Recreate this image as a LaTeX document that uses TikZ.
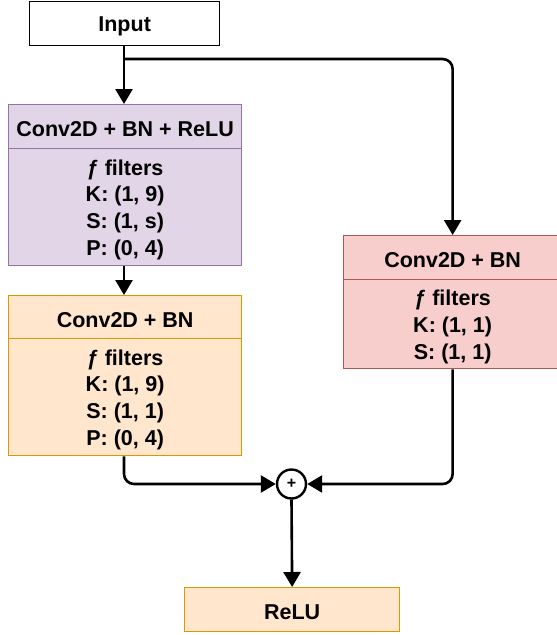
\documentclass[tikz,border=0pt]{standalone}
\usepackage{fontspec}
\setmainfont{Liberation Sans}
\usetikzlibrary{arrows.meta}
\definecolor{pfill}{HTML}{E1D5E7}\definecolor{pdraw}{HTML}{9673A6}
\definecolor{ofill}{HTML}{FFE6CC}\definecolor{odraw}{HTML}{D79B00}
\definecolor{rfill}{HTML}{F8CECC}\definecolor{rdraw}{HTML}{B85450}
\begin{document}
\begin{tikzpicture}[x=1pt,y=-1pt,
  box/.style={draw, line width=1.3pt, inner sep=0pt, anchor=north west},
  purplebox/.style={box, fill=pfill, draw=pdraw},
  orangebox/.style={box, fill=ofill, draw=odraw},
  redbox/.style={box, fill=rfill, draw=rdraw},
  txt/.style={inner sep=0pt, align=center, yshift=-2.5pt,
    font=\fontsize{21.5}{26.8}\selectfont\bfseries},
  conn/.style={line width=2.6pt, rounded corners=10pt, -{Triangle[length=15pt,width=17pt]}}]
\useasboundingbox (0,0) rectangle (557,635);
% boxes
\node[box, fill=white, draw=black, minimum width=190pt, minimum height=44pt] (in) at (29,1) {};
\node[purplebox, minimum width=233pt, minimum height=44pt] (phead) at (8,104) {};
\node[purplebox, minimum width=233pt, minimum height=117pt] (pbody) at (8,148) {};
\node[orangebox, minimum width=233pt, minimum height=43pt] (ohead) at (8,295) {};
\node[orangebox, minimum width=233pt, minimum height=117pt] (obody) at (8,338) {};
\node[redbox, minimum width=218pt, minimum height=44pt] (rhead) at (343,235) {};
\node[redbox, minimum width=218pt, minimum height=89pt] (rbody) at (343,279) {};
\node[orangebox, minimum width=215pt, minimum height=44pt] (relu) at (184,587) {};
\node[circle, draw, line width=2.4pt, fill=white, minimum size=29pt, inner sep=0pt,
  font=\fontsize{16}{16}\selectfont\bfseries] (plus) at (291.5,484) {+};
% texts
\node[txt] (tin) at (in.center) {Input};
\node[txt] (tph) at (phead.center) {Conv2D + BN + ReLU};
\node[txt] (tpb) at (pbody.center) {ƒ filters\\K: (1, 9)\\S: (1, s)\\P: (0, 4)};
\node[txt] (toh) at (ohead.center) {Conv2D + BN};
\node[txt] (tob) at (obody.center) {ƒ filters\\K: (1, 9)\\S: (1, 1)\\P: (0, 4)};
\node[txt] (trh) at (rhead.center) {Conv2D + BN};
\node[txt] (trb) at (rbody.center) {ƒ filters\\K: (1, 1)\\S: (1, 1)};
\node[txt] (trelu) at (relu.center) {ReLU};
% connectors
\coordinate (split) at (124,59);
\draw[conn] (in.south -| split) -- (phead.north -| split);
\draw[conn] (split) -| (rhead.north);
\draw[conn] (pbody.south -| split) -- (ohead.north -| split);
\draw[conn] (obody.south -| split) |- (plus.west);
\draw[conn] (rbody.south) |- (plus.east);
\draw[conn] (plus.south) -- (relu.north);
\end{tikzpicture}
\end{document}
